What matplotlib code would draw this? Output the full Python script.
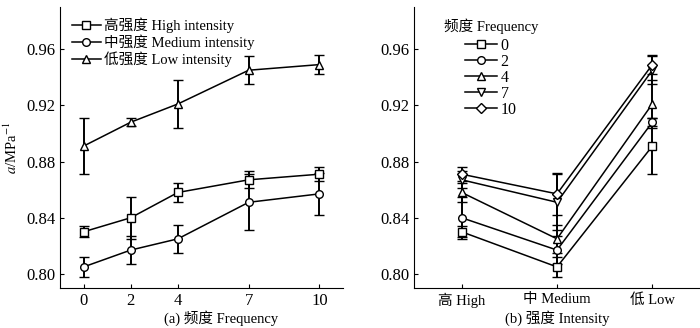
import numpy as np
import matplotlib
matplotlib.use('Agg')
import matplotlib.pyplot as plt
from matplotlib.lines import Line2D

plt.rcParams['font.family'] = ['Liberation Serif', 'Noto Sans CJK SC']
plt.rcParams['mathtext.fontset'] = 'stix'
plt.rcParams['font.size'] = 10.5

# data
freq = [0, 2, 4, 7, 10]
freq_labels = ['0', '2', '4', '7', '10']
high = [0.830, 0.840, 0.858, 0.867, 0.871]
high_err = [0.004, 0.015, 0.007, 0.006, 0.005]
medium = [0.805, 0.817, 0.825, 0.851, 0.857]
medium_err = [0.007, 0.010, 0.010, 0.020, 0.015]
low = [0.891, 0.908, 0.921, 0.945, 0.949]
low_err = [0.020, 0.003, 0.017, 0.010, 0.007]

intensity_labels = ['高 High', '中 Medium', '低 Low']
series_labels = ['高强度 High intensity', '中强度 Medium intensity', '低强度 Low intensity']
yticks = [0.80, 0.84, 0.88, 0.92, 0.96]

markers_a = ['s', 'o', '^']
markers_b = ['s', 'o', '^', 'v', 'D']

fig = plt.figure(figsize=(7, 3.28), dpi=100)
ax1 = fig.add_axes([60/700, 40/328, 283/700, 281/328])
ax2 = fig.add_axes([414/700, 40/328, 286/700, 281/328])

style = dict(color='black', lw=1.1, mfc='white', mec='black', mew=1.0,
             ms=5.5, capsize=3.5, elinewidth=1.4, capthick=1.4)

def handle(m, ms=5.5):
    return Line2D([], [], color='black', lw=1.1, marker=m, mfc='white',
                  mec='black', mew=1.0, ms=ms)

# (a) by frequency
for vals, errs, m in zip([high, medium, low], [high_err, medium_err, low_err], markers_a):
    ax1.errorbar(freq, vals, yerr=errs, marker=m, **style)

ax1.set_xlim(-1, 11)
ax1.set_xticks(freq)
ax1.set_xticklabels(freq_labels)
ax1.set_xlabel('(a) 频度 Frequency')
ax1.xaxis.set_label_coords(0.57, -0.08)
ax1.set_ylabel('$a$/MPa$^{-1}$', labelpad=4)
ax1.legend([handle(m) for m in markers_a], series_labels, loc='upper left',
           frameon=False, handlelength=2.0, handletextpad=0.25,
           labelspacing=0.12, borderaxespad=0.3, bbox_to_anchor=(0.005, 1.0))

# (b) by intensity
mat = np.array([high, medium, low])
err = np.array([high_err, medium_err, low_err])
xpos = np.arange(len(intensity_labels))
for j, m in enumerate(markers_b):
    st = dict(style)
    st['ms'] = 5.0 if m == 'D' else 5.5
    ax2.errorbar(xpos, mat[:, j], yerr=err[:, j], marker=m, **st)

ax2.set_xlim(-0.5, 2.5)
ax2.set_xticks(xpos)
ax2.set_xticklabels(intensity_labels)
ax2.set_xlabel('(b) 强度 Intensity')
ax2.xaxis.set_label_coords(0.5, -0.08)
leg = ax2.legend([handle(m, 5.0 if m == 'D' else 5.5) for m in markers_b], freq_labels,
                 loc='upper left', frameon=False, title='频度 Frequency', handlelength=2.0,
                 handletextpad=0.2, labelspacing=0.0, borderaxespad=0.3,
                 bbox_to_anchor=(0.065, 1.0), fontsize=11.5, title_fontsize=10.5)
leg._legend_box.sep = 3

for ax in (ax1, ax2):
    ax.set_ylim(0.79, 0.99)
    ax.set_yticks(yticks)
    ax.set_yticklabels(['%.2f' % v for v in yticks])
    ax.spines['top'].set_visible(False)
    ax.spines['right'].set_visible(False)
    ax.tick_params(direction='in', length=3, width=0.8, labelsize=12)
ax2.tick_params(axis='x', labelsize=10.5)

fig.savefig('out.png', dpi=100)
